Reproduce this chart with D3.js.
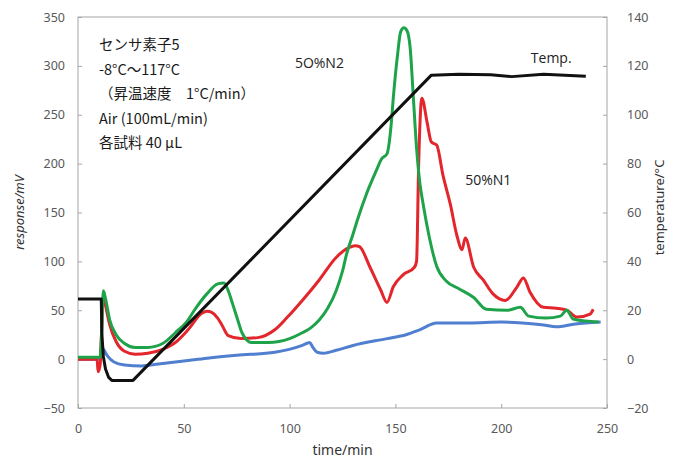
<!DOCTYPE html>
<html>
<head>
<meta charset="utf-8">
<script src="https://cdn.jsdelivr.net/npm/d3@7"></script>
<style>
  body { margin: 0; background: #fff; }
  svg { display: block; }
</style>
</head>
<body>
<svg id="chart" width="679" height="461"></svg>
<script>
// time/min, response/mV
var n2Series = [
  [0, 2], [10.5, 2], [11, 20], [12, 70], [13, 62], [15, 40], [18, 25], [22, 16],
  [27, 12], [33, 12], [40, 16], [46, 27], [52, 40], [55, 50], [61, 67], [66, 77],
  [69, 78], [71, 70], [73, 57], [75.5, 40], [77.5, 27], [82, 17], [90, 17],
  [100, 21], [106, 27], [110, 32], [114, 40], [118, 52], [122, 70], [125, 90],
  [127, 108], [130, 128], [132, 142], [136.5, 170], [141, 193], [143.5, 205],
  [146, 210], [148, 240], [149, 267], [151, 311], [152.5, 335], [154, 339],
  [155.5, 336], [157, 318], [158.5, 267], [160, 216], [161.5, 181], [163, 160],
  [166, 125], [169.5, 95], [174, 80], [180, 72], [187, 63], [193, 51], [203, 50],
  [209, 53], [213, 44], [221, 42], [228, 44], [231, 50], [234, 41], [240, 39], [246, 38]
];

var n1Series = [
  [0, 0], [9, 0], [9.5, -13], [10.5, -5], [11, 20], [12, 65], [13, 55], [15, 35],
  [18, 18], [22, 8], [27, 5], [33, 6], [40, 10], [46, 17], [52, 30], [58.5, 47],
  [61, 49], [63, 48], [66, 42], [68, 35], [71, 24], [77, 21], [85, 22], [93, 30],
  [99, 43], [106, 60], [114, 81], [122, 104], [128, 114], [131, 116], [133, 115],
  [138, 94], [143, 71], [146, 58], [149, 74], [153.5, 86], [159, 94], [160, 100],
  [161, 200], [162.5, 267], [165, 242], [167, 222], [169.5, 219], [172.5, 188],
  [176, 158], [179, 127], [181.5, 112], [183, 124], [187, 94], [191.5, 81],
  [196, 67], [202, 60], [207.5, 74], [210.5, 83], [213.5, 69], [220, 53],
  [226, 52], [231, 50], [236, 43], [242, 46], [243.5, 51]
];

var blueSeries = [
  [0, 0], [10.5, 0], [11, 12], [12, 10], [14, 3], [17, -3], [22, -6], [30, -7],
  [38, -5], [50, -2], [61, 1], [75, 4], [93, 7], [106, 14], [109.5, 17], [111, 12],
  [113, 7], [116, 6], [122, 9], [130, 14], [146, 21], [155, 25], [161.5, 30],
  [169.5, 37], [185, 37], [200, 38], [210, 37], [220, 35], [226, 33], [235, 36], [247, 38]
];

// time/min, temperature/°C
var tempSeries = [
  [0, 24.6], [11, 24.6], [11.3, 10], [12, 1], [13, -4], [14.5, -7.5], [16, -8.7], [26, -8.7],
  [167, 116.2], [180, 116.6], [195, 116.4], [205, 115.6], [220, 116.6], [230, 116.2], [240, 115.8]
];

var timeTicks = [0, 50, 100, 150, 200, 250];
var responseTicks = [-50, 0, 50, 100, 150, 200, 250, 300, 350];
var tempTicks = [-20, 0, 20, 40, 60, 80, 100, 120, 140];

var noteLines = [
  'センサ素子5',
  '-8°C～117°C',
  '（昇温速度　1°C/min）',
  'Air (100mL/min)',
  '各試料 40 μL'
];

var margin = { top: 17, right: 72, bottom: 53, left: 78 };
var width = 679 - margin.left - margin.right;
var height = 461 - margin.top - margin.bottom;

var svg = d3.select('#chart');
var g = svg.append('g')
  .attr('transform', 'translate(' + margin.left + ',' + margin.top + ')');

var x = d3.scaleLinear().domain([0, 250]).range([0, width]);
var y = d3.scaleLinear().domain([-50, 350]).range([height, 0]);
var yT = d3.scaleLinear().domain([-20, 140]).range([height, 0]);

var tickFont = '"Noto Sans", "DejaVu Sans", sans-serif';
var axisGray = '#a6a6a6';
var labelGray = '#595959';

function styleAxis(sel) {
  sel.select('.domain').remove();
  sel.selectAll('.tick line').attr('stroke', axisGray);
  sel.selectAll('.tick text')
    .attr('font-family', tickFont)
    .attr('font-size', '12.5px')
    .attr('fill', labelGray);
}

g.append('g')
  .attr('transform', 'translate(0,' + height + ')')
  .call(d3.axisBottom(x).tickValues(timeTicks).tickSize(-4).tickPadding(16))
  .call(styleAxis);

g.append('g')
  .call(d3.axisLeft(y).tickValues(responseTicks).tickSize(-4).tickPadding(13))
  .call(styleAxis);

g.append('g')
  .attr('transform', 'translate(' + width + ',0)')
  .call(d3.axisRight(yT).tickValues(tempTicks).tickSize(-4).tickPadding(20))
  .call(styleAxis);

// plot frame
g.append('rect')
  .attr('width', width)
  .attr('height', height)
  .attr('fill', 'none')
  .attr('stroke', axisGray)
  .attr('stroke-width', 1);

var line = d3.line()
  .x(function(d) { return x(d[0]); })
  .y(function(d) { return y(d[1]); })
  .curve(d3.curveMonotoneX);

// temperature ramp is straight, so no smoothing here
var tempLine = d3.line()
  .x(function(d) { return x(d[0]); })
  .y(function(d) { return yT(d[1]); });

function drawSeries(data, color, gen) {
  g.append('path')
    .datum(data)
    .attr('fill', 'none')
    .attr('stroke', color)
    .attr('stroke-width', 3)
    .attr('stroke-linejoin', 'round')
    .attr('d', gen);
}

drawSeries(blueSeries, '#4f7fce', line);
drawSeries(n1Series, '#e3262b', line);
drawSeries(n2Series, '#1fa34a', line);
drawSeries(tempSeries, '#111111', tempLine);

// series labels
var seriesFont = '"Open Sans", "Noto Sans", sans-serif';
g.append('text')
  .attr('x', x(102.5))
  .attr('y', y(303) + 5)
  .attr('font-family', seriesFont)
  .attr('font-size', '14px')
  .attr('fill', '#222')
  .text('5O%N2');

g.append('text')
  .attr('x', x(183))
  .attr('y', y(183) + 5)
  .attr('font-family', seriesFont)
  .attr('font-size', '14px')
  .attr('fill', '#222')
  .text('50%N1');

g.append('text')
  .attr('x', x(214))
  .attr('y', y(308) + 5)
  .attr('font-family', seriesFont)
  .attr('font-size', '14px')
  .attr('fill', '#222')
  .text('Temp.');

// annotation block
var note = g.append('text')
  .attr('font-family', '"Noto Sans CJK JP", "Noto Sans", sans-serif')
  .attr('font-size', '14.5px')
  .attr('fill', '#1a1a1a');

note.selectAll('tspan')
  .data(noteLines)
  .enter()
  .append('tspan')
  .attr('x', 21)
  .attr('y', function(d, i) { return 33 + i * 24.5; })
  .text(function(d) { return d; });

// axis titles
svg.append('text')
  .attr('transform', 'translate(24,' + (margin.top + height / 2) + ') rotate(-90)')
  .attr('text-anchor', 'middle')
  .attr('font-family', tickFont)
  .attr('font-size', '13px')
  .attr('font-style', 'italic')
  .attr('fill', '#333')
  .text('response/mV');

svg.append('text')
  .attr('transform', 'translate(664,' + (margin.top + height / 2 - 5) + ') rotate(-90)')
  .attr('text-anchor', 'middle')
  .attr('font-family', tickFont)
  .attr('font-size', '13px')
  .attr('fill', '#333')
  .text('temperature/°C');

svg.append('text')
  .attr('x', margin.left + width / 2)
  .attr('y', 455)
  .attr('text-anchor', 'middle')
  .attr('font-family', tickFont)
  .attr('font-size', '14px')
  .attr('fill', '#333')
  .text('time/min');
</script>
</body>
</html>
